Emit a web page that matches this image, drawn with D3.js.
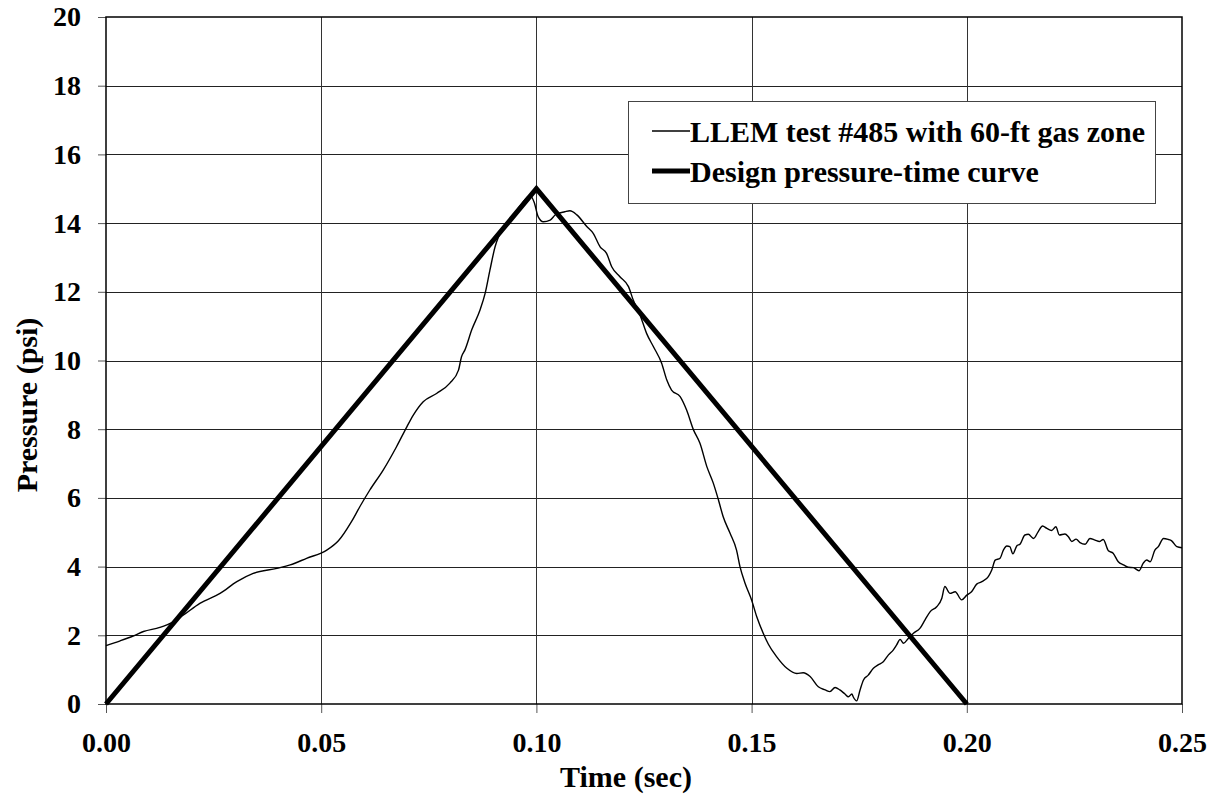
<!DOCTYPE html>
<html>
<head>
<meta charset="utf-8">
<script src="https://cdn.jsdelivr.net/npm/d3@7"></script>
<style>
  html, body { margin: 0; padding: 0; background: #fff; }
  text { font-family: "Liberation Serif", "Times New Roman", serif; font-weight: bold; fill: #000; }
</style>
</head>
<body>
<script>
// data
const testTime = [
  0.0000, 0.0033, 0.0063, 0.0087, 0.0125, 0.0153, 0.0180, 0.0218, 0.0265, 0.0304,
  0.0342, 0.0397, 0.0428, 0.0466, 0.0513, 0.0540, 0.0570, 0.0590, 0.0613, 0.0644,
  0.0675, 0.0699, 0.0714, 0.0737, 0.0768, 0.0799, 0.0819, 0.0826, 0.0834, 0.0850,
  0.0869, 0.0881, 0.0892, 0.0904, 0.0912, 0.0925, 0.0945, 0.0965, 0.0985, 0.0995,
  0.1004, 0.1016, 0.1032, 0.1045, 0.1066, 0.1078, 0.1094, 0.1117, 0.1132, 0.1148,
  0.1163, 0.1175, 0.1194, 0.1214, 0.1225, 0.1241, 0.1256, 0.1272, 0.1291, 0.1303,
  0.1314, 0.1334, 0.1349, 0.1365, 0.1380, 0.1396, 0.1411, 0.1423, 0.1434, 0.1450,
  0.1465, 0.1473, 0.1485, 0.1500, 0.1512, 0.1527, 0.1539, 0.1558, 0.1582, 0.1605,
  0.1620, 0.1636, 0.1655, 0.1671, 0.1682, 0.1694, 0.1705, 0.1717, 0.1725, 0.1733,
  0.1736, 0.1744, 0.1752, 0.1760, 0.1771, 0.1783, 0.1794, 0.1806, 0.1818, 0.1829,
  0.1837, 0.1845, 0.1853, 0.1864, 0.1876, 0.1891, 0.1903, 0.1915, 0.1930, 0.1942,
  0.1949, 0.1961, 0.1973, 0.1988, 0.2000, 0.2011, 0.2023, 0.2035, 0.2050, 0.2058,
  0.2066, 0.2077, 0.2085, 0.2093, 0.2100, 0.2107, 0.2116, 0.2124, 0.2135, 0.2143,
  0.2155, 0.2166, 0.2176, 0.2186, 0.2197, 0.2207, 0.2215, 0.2228, 0.2236, 0.2244,
  0.2254, 0.2263, 0.2275, 0.2286, 0.2298, 0.2308, 0.2317, 0.2329, 0.2340, 0.2352,
  0.2364, 0.2375, 0.2387, 0.2400, 0.2410, 0.2418, 0.2426, 0.2437, 0.2445, 0.2457,
  0.2468, 0.2476, 0.2488, 0.2500
];
const testPressure = [
  1.70, 1.84, 1.98, 2.11, 2.23, 2.37, 2.59, 2.93, 3.22, 3.56,
  3.80, 3.95, 4.05, 4.24, 4.48, 4.75, 5.30, 5.75, 6.23, 6.81,
  7.49, 8.07, 8.41, 8.80, 9.04, 9.34, 9.72, 10.11, 10.31, 10.90,
  11.47, 11.96, 12.63, 13.31, 13.60, 13.90, 14.20, 14.55, 14.80, 14.60,
  14.19, 14.04, 14.09, 14.25, 14.33, 14.36, 14.24, 13.90, 13.70, 13.31,
  13.12, 12.73, 12.44, 12.15, 11.76, 11.32, 10.79, 10.40, 9.92, 9.43,
  9.14, 8.95, 8.56, 7.98, 7.59, 6.91, 6.43, 5.94, 5.45, 4.97,
  4.48, 4.00, 3.51, 3.03, 2.54, 2.06, 1.74, 1.38, 1.04, 0.89,
  0.91, 0.80, 0.50, 0.41, 0.36, 0.48, 0.41, 0.29, 0.21, 0.29,
  0.21, 0.09, 0.41, 0.70, 0.84, 1.04, 1.14, 1.23, 1.43, 1.57,
  1.72, 1.88, 1.77, 1.91, 2.06, 2.20, 2.45, 2.69, 2.83, 3.08,
  3.42, 3.22, 3.27, 3.03, 3.17, 3.27, 3.49, 3.56, 3.71, 3.90,
  4.19, 4.24, 4.48, 4.60, 4.58, 4.37, 4.60, 4.66, 4.92, 4.94,
  4.82, 5.02, 5.18, 5.11, 5.05, 5.16, 4.92, 4.95, 4.87, 4.73,
  4.80, 4.70, 4.65, 4.82, 4.77, 4.73, 4.79, 4.46, 4.39, 4.14,
  4.05, 3.98, 3.97, 3.88, 4.10, 4.19, 4.14, 4.48, 4.58, 4.82,
  4.79, 4.75, 4.58, 4.55
];
const designTime = [0, 0.1, 0.2];
const designPressure = [0, 15, 0];
const xTicks = [0, 0.05, 0.10, 0.15, 0.20, 0.25];
const yTicks = [0, 2, 4, 6, 8, 10, 12, 14, 16, 18, 20];
const seriesNames = ['LLEM test #485 with 60-ft gas zone', 'Design pressure-time curve'];

// canvas
const width = 1211;
const height = 795;
const margin = { top: 17, left: 106, bottom: 91, right: 29 };

const svg = d3.select('body').append('svg').attr('width', width).attr('height', height);

const x = d3.scaleLinear().domain([0, 0.25]).range([margin.left, width - margin.right]);
const y = d3.scaleLinear().domain([0, 20]).range([height - margin.bottom, margin.top]);

const test = testTime.map((t, i) => ({ t, p: testPressure[i] }));
const design = designTime.map((t, i) => ({ t, p: designPressure[i] }));

// grid
svg.append('g')
  .selectAll('line')
  .data(yTicks.slice(1, -1))
  .enter()
  .append('line')
  .attr('x1', x(0)).attr('x2', x(0.25))
  .attr('y1', (d) => Math.round(y(d)) + 0.5).attr('y2', (d) => Math.round(y(d)) + 0.5)
  .attr('stroke', '#222').attr('stroke-width', 1);

svg.append('g')
  .selectAll('line')
  .data(xTicks.slice(1, -1))
  .enter()
  .append('line')
  .attr('y1', y(0)).attr('y2', y(20))
  .attr('x1', (d) => Math.round(x(d)) + 0.5).attr('x2', (d) => Math.round(x(d)) + 0.5)
  .attr('stroke', '#333').attr('stroke-width', 1);

// axes
const xAxis = (g) =>
  g.attr('transform', `translate(0, ${y(0)})`)
    .call(d3.axisBottom(x).tickValues(xTicks).tickFormat(d3.format('.2f')).tickSize(9).tickPadding(19))
    .call((g) => g.select('.domain').remove())
    .call((g) => g.selectAll('line').attr('stroke', '#555'))
    .call((g) => g.selectAll('text').attr('font-size', '28px').attr('fill', '#000'));

const yAxis = (g) =>
  g.attr('transform', `translate(${x(0)}, 0)`)
    .call(d3.axisLeft(y).tickValues(yTicks).tickSize(8).tickPadding(17))
    .call((g) => g.select('.domain').remove())
    .call((g) => g.selectAll('line').attr('stroke', '#555'))
    .call((g) => g.selectAll('text').attr('font-size', '28px').attr('fill', '#000'));

svg.append('g').call(xAxis);
svg.append('g').call(yAxis);

// plot frame
svg.append('rect')
  .attr('x', x(0)).attr('y', y(20))
  .attr('width', x(0.25) - x(0)).attr('height', y(0) - y(20))
  .attr('fill', 'none').attr('stroke', '#000').attr('stroke-width', 1.5);

svg.append('clipPath').attr('id', 'plot')
  .append('rect')
  .attr('x', x(0) - 3).attr('y', y(20))
  .attr('width', x(0.25) - x(0) + 3).attr('height', y(0) - y(20) + 3);

// lines
const line = d3.line()
  .x((d) => x(d.t))
  .y((d) => y(d.p));

svg.append('path')
  .datum(test)
  .attr('clip-path', 'url(#plot)')
  .attr('fill', 'none')
  .attr('stroke', '#000')
  .attr('stroke-width', 1.4)
  .attr('stroke-linejoin', 'round')
  .attr('d', line.curve(d3.curveMonotoneX));

svg.append('path')
  .datum(design)
  .attr('fill', 'none')
  .attr('stroke', '#000')
  .attr('stroke-width', 5)
  .attr('stroke-linejoin', 'miter')
  .attr('d', d3.line().x((d) => x(d.t)).y((d) => y(d.p)));

// legend
const legend = svg.append('g').attr('transform', 'translate(628, 101)');
legend.append('rect')
  .attr('x', 0.5).attr('y', 0.5)
  .attr('width', 527).attr('height', 102)
  .attr('fill', '#fff').attr('stroke', '#444').attr('stroke-width', 1);

const rows = legend.selectAll('g.row')
  .data(seriesNames)
  .enter()
  .append('g')
  .attr('transform', (d, i) => `translate(0, ${30 + i * 40})`);

rows.append('line')
  .attr('x1', 24).attr('x2', 62)
  .attr('stroke', '#000')
  .attr('stroke-width', (d, i) => (i === 0 ? 1.4 : 5));

rows.append('text')
  .attr('x', 62)
  .attr('dy', '0.35em')
  .attr('font-size', '30px')
  .text((d) => d);

// axis titles
svg.append('text')
  .attr('x', 626)
  .attr('y', 787)
  .attr('text-anchor', 'middle')
  .attr('font-size', '30px')
  .text('Time (sec)');

svg.append('text')
  .attr('transform', 'translate(26, 405) rotate(-90)')
  .attr('text-anchor', 'middle')
  .attr('dy', '0.35em')
  .attr('font-size', '30px')
  .text('Pressure (psi)');
</script>
</body>
</html>
